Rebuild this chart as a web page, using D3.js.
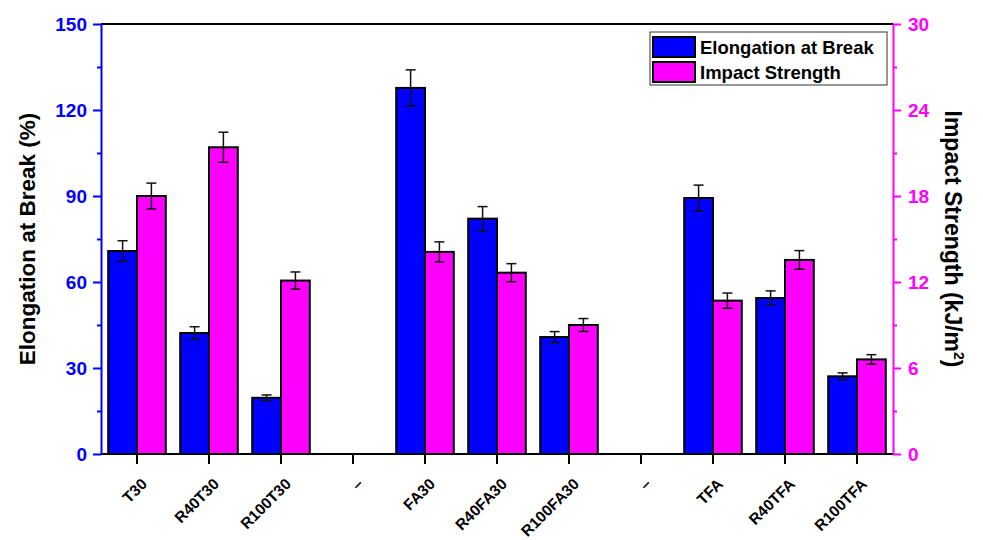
<!DOCTYPE html>
<html>
<head>
<meta charset="utf-8">
<script src="https://cdn.jsdelivr.net/npm/d3@7"></script>
<style>
  body { margin: 0; background: #fff; }
  text { font-family: "Liberation Sans", Arial, sans-serif; font-weight: bold; }
</style>
</head>
<body>
<div id="chart"></div>
<script>
const categories = ["T30", "R40T30", "R100T30", "–", "FA30", "R40FA30", "R100FA30", "–", "TFA", "R40TFA", "R100TFA"];
// null = empty slot
const elongation = [70.8, 42.2, 19.6, null, 127.7, 82.1, 40.8, null, 89.3, 54.4, 27.1];
const elongationErr = [3.6, 2.2, 1.0, null, 6.3, 4.2, 1.9, null, 4.5, 2.5, 1.2];
const impact = [18.0, 21.4, 12.1, null, 14.1, 12.65, 9.0, null, 10.7, 13.54, 6.6];
const impactErr = [0.9, 1.05, 0.6, null, 0.7, 0.63, 0.45, null, 0.53, 0.65, 0.33];
const leftTicks = [0, 30, 60, 90, 120, 150];
const rightTicks = [0, 6, 12, 18, 24, 30];

const W = 983, H = 540;
const pLeft = 101, pRight = 893, pTop = 24, pBottom = 454;
const blue = "#0000ff", magenta = "#ff00ff";

let svg = d3.select("#chart").append("svg")
    .attr("width", W).attr("height", H);

let x = d3.scaleBand()
    .domain(d3.range(categories.length))
    .range([pLeft, pRight])
    .paddingInner(0.2)
    .paddingOuter(0.1);

let yL = d3.scaleLinear().domain([0, 150]).range([pBottom, pTop]);
let yR = d3.scaleLinear().domain([0, 30]).range([pBottom, pTop]);

let sub = d3.scaleBand().domain([0, 1]).range([0, x.bandwidth()]);

// bars
let series = [
    {vals: elongation, err: elongationErr, y: yL, color: blue},
    {vals: impact, err: impactErr, y: yR, color: magenta}
];

series.forEach(function(s, si) {
    let data = s.vals.map(function(v, i) { return {i: i, v: v, e: s.err[i]}; })
        .filter(function(d) { return d.v !== null; });

    svg.append("g").selectAll("rect")
        .data(data).enter().append("rect")
        .attr("x", function(d) { return x(d.i) + sub(si); })
        .attr("y", function(d) { return s.y(d.v); })
        .attr("width", sub.bandwidth())
        .attr("height", function(d) { return pBottom - s.y(d.v); })
        .attr("fill", s.color)
        .attr("stroke", "#000")
        .attr("stroke-width", 2);

    let eb = svg.append("g").attr("stroke", "#111").attr("stroke-width", 1.5);
    data.forEach(function(d) {
        let cx = x(d.i) + sub(si) + sub.bandwidth() / 2;
        let y1 = s.y(d.v + d.e), y2 = s.y(d.v - d.e);
        eb.append("line").attr("x1", cx).attr("x2", cx).attr("y1", y1).attr("y2", y2);
        eb.append("line").attr("x1", cx - 5).attr("x2", cx + 5).attr("y1", y1).attr("y2", y1);
        eb.append("line").attr("x1", cx - 5).attr("x2", cx + 5).attr("y1", y2).attr("y2", y2);
    });
});

// top frame
svg.append("line")
    .attr("x1", pLeft).attr("x2", pRight).attr("y1", pTop).attr("y2", pTop)
    .attr("stroke", "#000").attr("stroke-width", 2);

// bottom axis
let xAxis = svg.append("g")
    .attr("transform", "translate(0," + pBottom + ")")
    .call(d3.axisBottom(x).tickSize(10).tickSizeOuter(0).tickFormat(function(i) { return categories[i]; }));
xAxis.select(".domain").attr("stroke", "#000").attr("stroke-width", 2)
    .attr("d", "M" + pLeft + ",0H" + pRight);
xAxis.selectAll(".tick line").attr("stroke", "#000").attr("stroke-width", 2);
xAxis.selectAll(".tick text")
    .attr("fill", "#000")
    .style("font-size", "15.5px")
    .attr("text-anchor", "end")
    .attr("dy", null)
    .attr("y", 0)
    .attr("transform", "translate(11,31) rotate(-45)");

// left axis
let minorL = d3.range(15, 150, 30);
svg.append("g").attr("transform", "translate(" + pLeft + ",0)")
    .call(d3.axisLeft(yL).tickValues(minorL).tickSize(4).tickFormat(""))
    .call(function(g) { g.select(".domain").remove(); g.selectAll("line").attr("stroke", blue).attr("stroke-width", 2); });
let lAxis = svg.append("g").attr("transform", "translate(" + pLeft + ",0)")
    .call(d3.axisLeft(yL).tickValues(leftTicks).tickSize(8).tickSizeOuter(0).tickPadding(6));
lAxis.select(".domain").attr("stroke", blue).attr("stroke-width", 2);
lAxis.selectAll(".tick line").attr("stroke", blue).attr("stroke-width", 2);
lAxis.selectAll(".tick text").attr("fill", blue).style("font-size", "19px");

// right axis
let minorR = d3.range(3, 30, 6);
svg.append("g").attr("transform", "translate(" + pRight + ",0)")
    .call(d3.axisRight(yR).tickValues(minorR).tickSize(4).tickFormat(""))
    .call(function(g) { g.select(".domain").remove(); g.selectAll("line").attr("stroke", magenta).attr("stroke-width", 2); });
let rAxis = svg.append("g").attr("transform", "translate(" + pRight + ",0)")
    .call(d3.axisRight(yR).tickValues(rightTicks).tickSize(8).tickSizeOuter(0).tickPadding(7));
rAxis.select(".domain").attr("stroke", magenta).attr("stroke-width", 2);
rAxis.selectAll(".tick line").attr("stroke", magenta).attr("stroke-width", 2);
rAxis.selectAll(".tick text").attr("fill", magenta).style("font-size", "19px");

// axis titles
svg.append("text")
    .attr("transform", "translate(35," + ((pTop + pBottom) / 2) + ") rotate(-90)")
    .attr("text-anchor", "middle")
    .style("font-size", "22.5px")
    .text("Elongation at Break (%)");

let rt = svg.append("text")
    .attr("transform", "translate(945," + ((pTop + pBottom) / 2) + ") rotate(90)")
    .attr("text-anchor", "middle")
    .style("font-size", "23px");
rt.append("tspan").text("Impact Strength (kJ/m");
rt.append("tspan").attr("dy", -9).style("font-size", "14px").text("2");
rt.append("tspan").attr("dy", 9).text(")");

// legend
let legend = svg.append("g");
legend.append("rect")
    .attr("x", 650).attr("y", 32).attr("width", 237).attr("height", 53)
    .attr("fill", "#fff").attr("stroke", "#333").attr("stroke-width", 1);
let legItems = [["Elongation at Break", blue], ["Impact Strength", magenta]];
legItems.forEach(function(d, i) {
    legend.append("rect")
        .attr("x", 653).attr("y", 37 + i * 25).attr("width", 42).attr("height", 20)
        .attr("fill", d[1]).attr("stroke", "#000").attr("stroke-width", 2);
    legend.append("text")
        .attr("x", 700).attr("y", 54 + i * 25)
        .style("font-size", "18.5px")
        .text(d[0]);
});
</script>
</body>
</html>
